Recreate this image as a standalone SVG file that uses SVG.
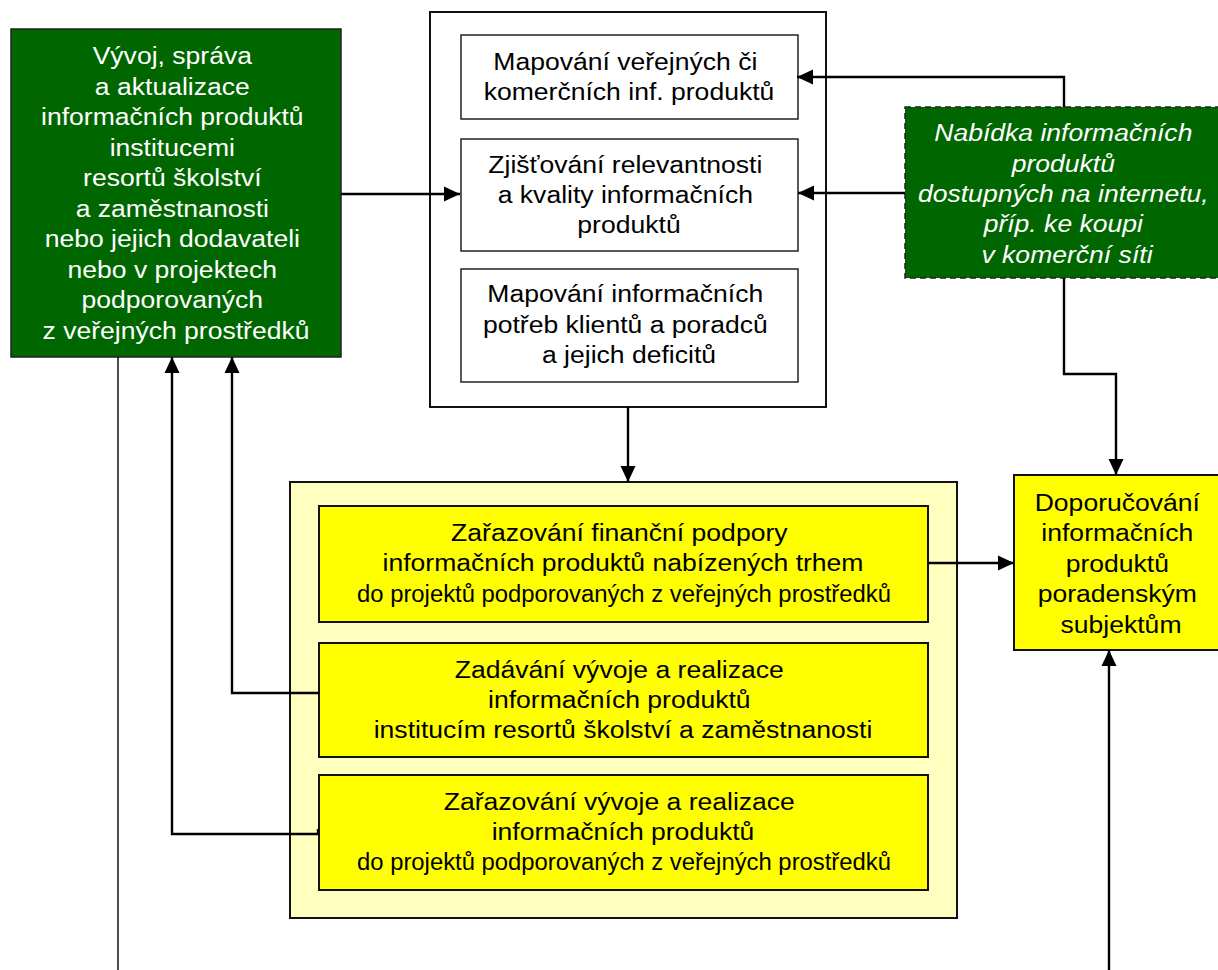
<svg xmlns="http://www.w3.org/2000/svg" width="1218" height="970" viewBox="0 0 1218 970">
<defs>
<style>
.t{font-family:"Liberation Sans",Arial,sans-serif;font-size:23.5px;text-anchor:middle}
.w{fill:#fff}
.k{fill:#000}
.i{font-style:italic}
.green{fill:#006600;stroke:#222;stroke-width:1.5}
.dash{fill:#006600;stroke:#222;stroke-width:1.5;stroke-dasharray:6 4}
.wbox{fill:#fff;stroke:#111;stroke-width:2}
.ibox{fill:#fff;stroke:#222;stroke-width:1.5}
.ybox{fill:#ffff00;stroke:#111;stroke-width:2}
.lybox{fill:#ffffc0;stroke:#111;stroke-width:2}
.c{fill:none;stroke:#000;stroke-width:2.4}
.thin{fill:none;stroke:#000;stroke-width:1.4}
</style>
<marker id="ah" markerWidth="17" markerHeight="16" refX="16" refY="8" orient="auto" markerUnits="userSpaceOnUse">
<path d="M0,0.5 L16,8 L0,15.5 z" fill="#000"/>
</marker>
</defs>
<rect x="0" y="0" width="1218" height="970" fill="#fff"/>

<g id="vyvoj">
<rect class="green" x="11" y="29" width="330" height="328"/>
<text class="t w" transform="translate(176 0) scale(1.13 1)">
<tspan x="0" y="64.5">Vývoj, správa</tspan>
<tspan x="0" y="95">a aktualizace</tspan>
<tspan x="0" y="125.5">informačních produktů</tspan>
<tspan x="0" y="156">institucemi</tspan>
<tspan x="0" y="186.5">resortů školství</tspan>
<tspan x="0" y="217">a zaměstnanosti</tspan>
<tspan x="0" y="247.5">nebo jejich dodavateli</tspan>
<tspan x="0" y="278">nebo v projektech</tspan>
<tspan x="0" y="308.5">podporovaných</tspan>
<tspan x="0" y="339">z veřejných prostředků</tspan>
</text>
</g>

<g id="mapovani-group">
<rect class="wbox" x="430" y="12" width="396" height="395"/>
</g>

<g id="mapovani-produktu">
<rect class="ibox" x="461" y="35" width="337" height="84"/>
<text class="t k" transform="translate(629 0) scale(1.13 1)">
<tspan x="0" y="70.5">Mapování veřejných či</tspan>
<tspan x="0" y="100.5">komerčních inf. produktů</tspan>
</text>
</g>

<g id="zjistovani">
<rect class="ibox" x="461" y="139" width="337" height="112"/>
<text class="t k" transform="translate(629 0) scale(1.13 1)">
<tspan x="0" y="173">Zjišťování relevantnosti</tspan>
<tspan x="0" y="203">a kvality informačních</tspan>
<tspan x="0" y="233">produktů</tspan>
</text>
</g>

<g id="mapovani-potreb">
<rect class="ibox" x="461" y="269" width="337" height="113"/>
<text class="t k" transform="translate(629 0) scale(1.13 1)">
<tspan x="0" y="302.5">Mapování informačních</tspan>
<tspan x="0" y="333">potřeb klientů a poradců</tspan>
<tspan x="0" y="363.5">a jejich deficitů</tspan>
</text>
</g>

<g id="nabidka">
<rect class="dash" x="905" y="107" width="320" height="171"/>
<text class="t w i" transform="translate(1067 0) scale(1.13 1)">
<tspan x="0" y="141.5">Nabídka informačních</tspan>
<tspan x="0" y="171.8">produktů</tspan>
<tspan x="0" y="202">dostupných na internetu,</tspan>
<tspan x="0" y="232.3">příp. ke koupi</tspan>
<tspan x="0" y="262.6">v komerční síti</tspan>
</text>
</g>

<g id="rozhodovani-group">
<rect class="lybox" x="290" y="482" width="667" height="436"/>
</g>

<g id="zarazovani-financni">
<rect class="ybox" x="319" y="506" width="609" height="116"/>
<text class="t k" transform="translate(623 0) scale(1.13 1)">
<tspan x="0" y="541">Zařazování finanční podpory</tspan>
<tspan x="0" y="571.5">informačních produktů nabízených trhem</tspan>
</text>
<text class="t k" x="624" y="602" textLength="534" lengthAdjust="spacingAndGlyphs">do projektů podporovaných z veřejných prostředků</text>
</g>

<g id="zadavani">
<rect class="ybox" x="319" y="643" width="609" height="114"/>
<text class="t k" transform="translate(623 0) scale(1.13 1)">
<tspan x="0" y="678">Zadávání vývoje a realizace</tspan>
<tspan x="0" y="708">informačních produktů</tspan>
<tspan x="0" y="738">institucím resortů školství a zaměstnanosti</tspan>
</text>
</g>

<g id="zarazovani-vyvoje">
<rect class="ybox" x="319" y="775" width="609" height="115"/>
<text class="t k" transform="translate(623 0) scale(1.13 1)">
<tspan x="0" y="810">Zařazování vývoje a realizace</tspan>
<tspan x="0" y="840">informačních produktů</tspan>
</text>
<text class="t k" x="624" y="870" textLength="534" lengthAdjust="spacingAndGlyphs">do projektů podporovaných z veřejných prostředků</text>
</g>

<g id="doporucovani">
<rect class="ybox" x="1014" y="475" width="214" height="175"/>
<text class="t k" transform="translate(1121 0) scale(1.13 1)">
<tspan x="0" y="511">Doporučování</tspan>
<tspan x="0" y="541.5">informačních</tspan>
<tspan x="0" y="572">produktů</tspan>
<tspan x="0" y="602.5">poradenským</tspan>
<tspan x="0" y="633">subjektům</tspan>
</text>
</g>

<g id="connectors">
<path class="c" d="M341,194 L460,194" marker-end="url(#ah)"/>
<path class="c" d="M1064,107 L1064,77 L797,77" marker-end="url(#ah)"/>
<path class="c" d="M905,193 L798,193" marker-end="url(#ah)"/>
<path class="c" d="M1064,278 L1064,374 L1116,374 L1116,475" marker-end="url(#ah)"/>
<path class="c" d="M628,407 L628,482" marker-end="url(#ah)"/>
<path class="c" d="M928,563 L1014,563" marker-end="url(#ah)"/>
<path class="c" d="M319,693 L232,693 L232,357" marker-end="url(#ah)"/>
<path class="c" d="M318,829 L318,834 L172,834 L172,357" marker-end="url(#ah)"/>
<path class="thin" d="M118,357 L118,975"/>
<path class="c" d="M1109,975 L1109,650" marker-end="url(#ah)"/>
</g>
</svg>
